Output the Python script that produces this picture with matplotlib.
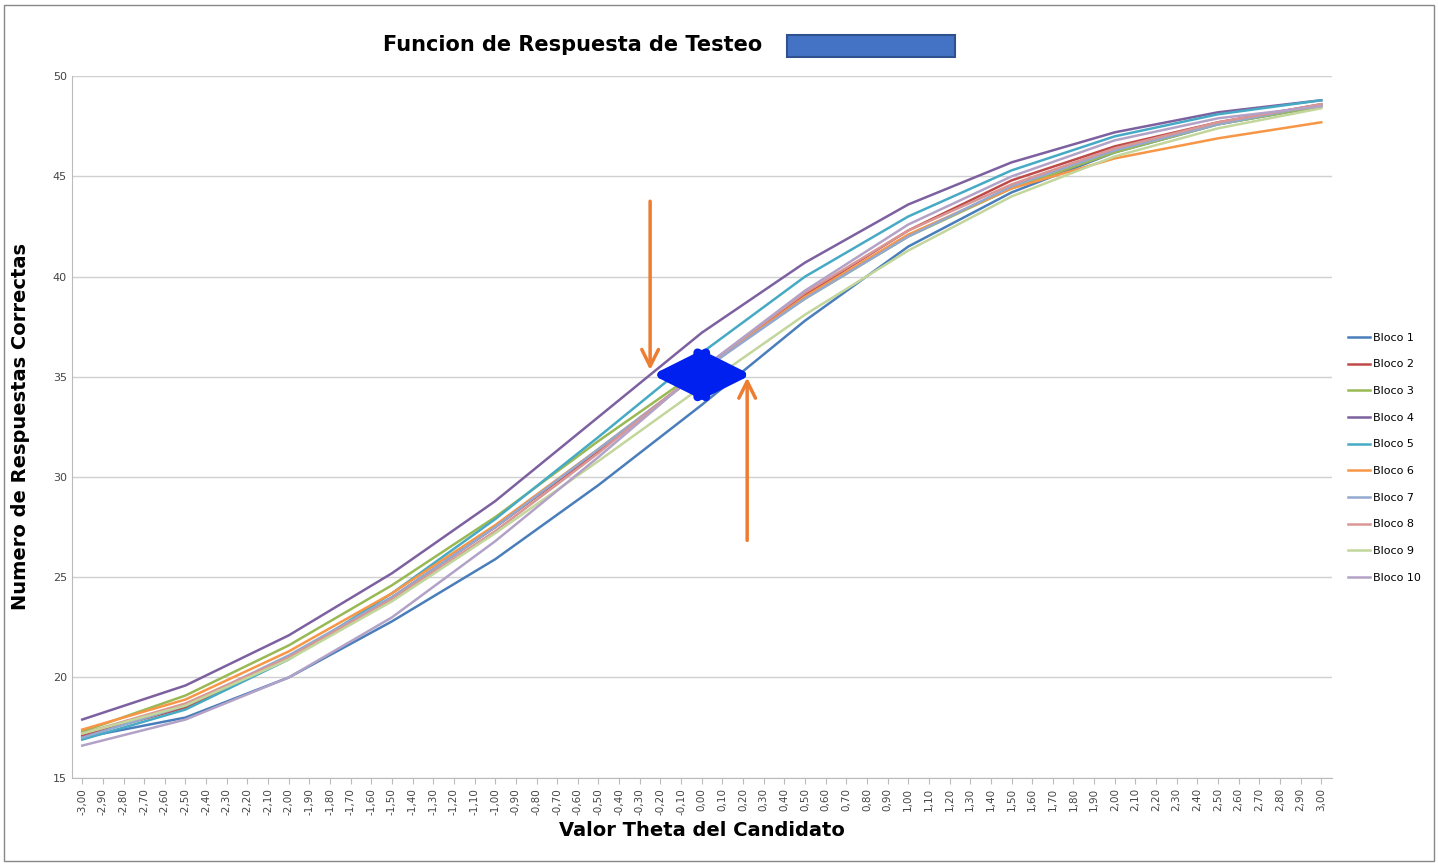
import matplotlib.pyplot as plt
from matplotlib.patches import Rectangle, FancyArrowPatch

theta_labels = [("%.2f" % (-3 + 0.1 * i)).replace(".", ",") for i in range(61)]
theta_labels = [t if t != "-0,00" else "0,00" for t in theta_labels]
theta_pts = [-3.0, -2.5, -2.0, -1.5, -1.0, -0.5, 0.0, 0.5, 1.0, 1.5, 2.0, 2.5, 3.0]

bloco1 = [17.0, 18.0, 20.0, 22.8, 25.9, 29.6, 33.6, 37.8, 41.5, 44.2, 46.2, 47.6, 48.5]
bloco2 = [17.1, 18.5, 21.0, 24.0, 27.5, 31.3, 35.3, 39.1, 42.3, 44.8, 46.5, 47.7, 48.6]
bloco3 = [17.3, 19.1, 21.6, 24.6, 28.0, 31.8, 35.4, 38.9, 42.0, 44.4, 46.2, 47.6, 48.5]
bloco4 = [17.9, 19.6, 22.1, 25.2, 28.8, 33.0, 37.2, 40.7, 43.6, 45.7, 47.2, 48.2, 48.8]
bloco5 = [16.9, 18.4, 20.9, 24.2, 27.9, 32.0, 36.2, 40.0, 43.0, 45.3, 47.0, 48.1, 48.8]
bloco6 = [17.4, 18.9, 21.3, 24.2, 27.6, 31.4, 35.3, 39.0, 42.1, 44.4, 45.9, 46.9, 47.7]
bloco7 = [17.0, 18.6, 21.1, 24.0, 27.5, 31.4, 35.3, 38.9, 42.0, 44.5, 46.3, 47.6, 48.6]
bloco8 = [17.2, 18.7, 21.0, 23.9, 27.3, 31.2, 35.4, 39.2, 42.3, 44.6, 46.4, 47.7, 48.6]
bloco9 = [17.2, 18.6, 20.9, 23.8, 27.2, 30.8, 34.5, 38.1, 41.3, 44.0, 46.0, 47.4, 48.4]
bloco10 = [16.6, 17.9, 20.0, 23.0, 26.8, 31.0, 35.4, 39.3, 42.6, 45.0, 46.8, 47.9, 48.5]

series = [bloco1, bloco2, bloco3, bloco4, bloco5, bloco6, bloco7, bloco8, bloco9, bloco10]
names = ["Bloco %d" % (i + 1) for i in range(10)]
colors = ["#4a7ebb", "#be4b48", "#98b954", "#7d60a0", "#46aac5",
          "#f79646", "#93a9cf", "#d99694", "#c3d69b", "#b3a2c7"]

fig = plt.figure(figsize=(14.38, 8.66), dpi=100)
ax = fig.add_axes([0.05, 0.102, 0.876, 0.81])

xpos = [round((t + 3) * 10) for t in theta_pts]
for vals, name, c in zip(series, names, colors):
    ax.plot(xpos, vals, color=c, lw=1.8, label=name)

ax.set_xlim(-0.5, 60.5)
ax.set_ylim(15, 50)
ax.set_yticks(range(15, 51, 5))
ax.set_xticks(range(61))
ax.set_xticklabels(theta_labels, rotation=90, fontsize=7.5, color="#444444")
ax.tick_params(axis="y", labelsize=8, colors="#444444", length=0)
ax.tick_params(axis="x", length=4, color="#bbbbbb")
ax.grid(axis="y", color="#d0d0d0", lw=1)
ax.set_axisbelow(True)
for s in ["top", "right"]:
    ax.spines[s].set_visible(False)
ax.spines["left"].set_color("#bbbbbb")
ax.spines["bottom"].set_color("#bbbbbb")

ax.set_xlabel("Valor Theta del Candidato", fontsize=14, fontweight="bold")
ax.set_ylabel("Numero de Respuestas Correctas", fontsize=14, fontweight="bold")
ax.yaxis.set_label_coords(-0.033, 0.5)

# annotations
ax.annotate("", xy=(27.5, 35.2), xytext=(27.5, 43.9),
            arrowprops=dict(arrowstyle="->", color="#ed7d31", lw=2.5, mutation_scale=30))
ax.annotate("", xy=(32.2, 35.1), xytext=(32.2, 26.7),
            arrowprops=dict(arrowstyle="->", color="#ed7d31", lw=2.5, mutation_scale=30))
ax.add_patch(FancyArrowPatch((27.6, 35.1), (32.4, 35.1),
                             arrowstyle="<|-|>,head_length=1.6,head_width=0.8",
                             color="#0020f0", lw=6, mutation_scale=20, zorder=5,
                             shrinkA=0, shrinkB=0))

ax.legend(loc="center left", bbox_to_anchor=(1.005, 0.456), frameon=False,
          fontsize=8, labelspacing=1.5, handlelength=2.0, handletextpad=0.3)

fig.text(0.266, 0.948, "Funcion de Respuesta de Testeo", fontsize=15,
         fontweight="bold", va="center")
fig.patches.append(Rectangle((0.547, 0.934), 0.117, 0.026, transform=fig.transFigure,
                             facecolor="#4472c4", edgecolor="#2f528f", lw=1.5))
fig.patches.append(Rectangle((0.003, 0.006), 0.994, 0.988, transform=fig.transFigure,
                             fill=False, edgecolor="#888888", lw=1))

fig.savefig("out.png", dpi=100)
